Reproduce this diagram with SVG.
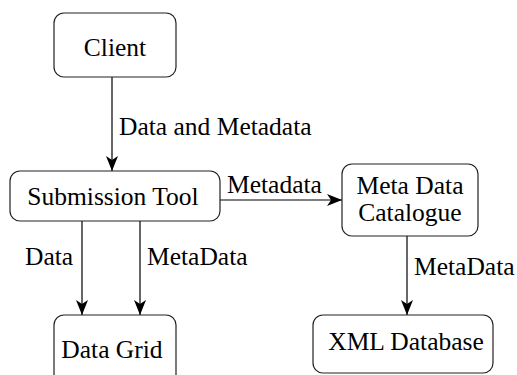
<svg xmlns="http://www.w3.org/2000/svg" width="517" height="375" viewBox="0 0 517 375">
<style>
.box{fill:#fff;stroke:#222;stroke-width:1.2}
text{font-family:"Liberation Serif","DejaVu Serif",serif;font-size:25.5px;fill:#000}
.c{text-anchor:middle}
.ln{stroke:#000;stroke-width:1.2;fill:none}
</style>
<defs>
<marker id="ah" markerUnits="userSpaceOnUse" markerWidth="16" markerHeight="14" viewBox="-15 -7 16 14" refX="0" refY="0" orient="auto">
<path d="M0,0 L-15,-6 L-11,0 L-15,6 Z" fill="#000"/>
</marker>
</defs>
<rect width="517" height="375" fill="#fff"/>
<g id="connectors">
<line class="ln" x1="112" y1="77" x2="112" y2="171" marker-end="url(#ah)"/>
<text x="119" y="135">Data and Metadata</text>
<line class="ln" x1="82" y1="221" x2="82" y2="315" marker-end="url(#ah)"/>
<text x="25" y="265">Data</text>
<line class="ln" x1="140" y1="221" x2="140" y2="315" marker-end="url(#ah)"/>
<text x="147" y="265">MetaData</text>
<line class="ln" x1="220" y1="200" x2="342" y2="200" marker-end="url(#ah)"/>
<text x="227" y="193">Metadata</text>
<line class="ln" x1="407" y1="236" x2="407" y2="315" marker-end="url(#ah)"/>
<text x="414" y="275">MetaData</text>
</g>
<g id="client">
<rect class="box" x="54" y="13" width="122" height="64" rx="10"/>
<text class="c" x="115" y="56">Client</text>
</g>
<g id="submission">
<rect class="box" x="10" y="171" width="210" height="50" rx="10"/>
<text class="c" x="113" y="205">Submission Tool</text>
</g>
<g id="catalogue">
<rect class="box" x="342" y="164" width="136" height="72" rx="10"/>
<text class="c" x="410" y="194">Meta Data</text>
<text class="c" x="410" y="221">Catalogue</text>
</g>
<g id="datagrid">
<rect class="box" x="54" y="315" width="122" height="70" rx="10"/>
<text class="c" x="112" y="358">Data Grid</text>
</g>
<g id="xmldb">
<rect class="box" x="313" y="315" width="180" height="58" rx="10"/>
<text class="c" x="406" y="350">XML Database</text>
</g>
</svg>
